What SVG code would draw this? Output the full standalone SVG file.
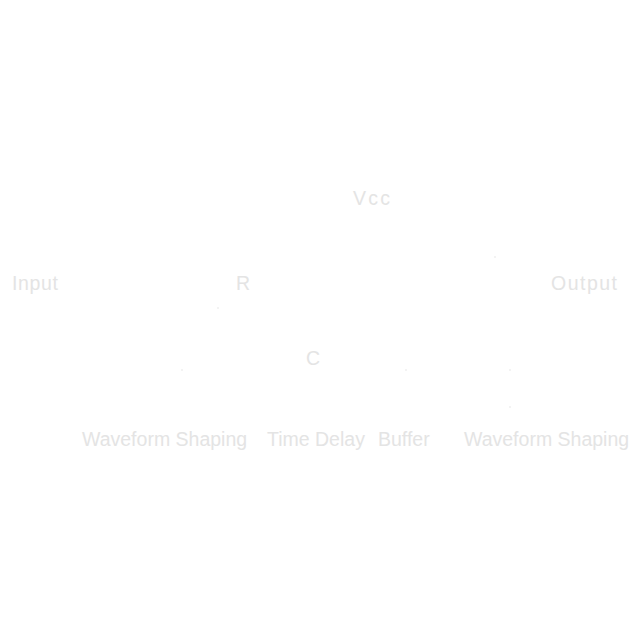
<svg xmlns="http://www.w3.org/2000/svg" width="640" height="640" viewBox="0 0 640 640">
<style>
.lbl{font-family:"Liberation Sans",Arial,sans-serif;font-size:19.5px;fill:#e4e4e4}
.wire{stroke:#ffffff;stroke-width:2;fill:none}
.tick{fill:#d0d0d0}
</style>
<rect width="640" height="640" fill="#ffffff"/>
<g id="connectors">
<path class="wire" d="M65 285 H230 M250 285 H540 M370 210 V285 M311 285 V345"/>
<rect class="tick" x="217.5" y="307.5" width="1" height="1"/>
<rect class="tick" x="181.5" y="369.5" width="1" height="1"/>
<rect class="tick" x="405.5" y="369.5" width="1" height="1"/>
<rect class="tick" x="509.5" y="369.5" width="1" height="1"/>
<rect class="tick" x="509.5" y="406.5" width="1" height="1"/>
<rect class="tick" x="494.5" y="256.5" width="1" height="1"/>
</g>
<g id="vcc"><text class="lbl" x="353" y="205" textLength="37" lengthAdjust="spacing">Vcc</text></g>
<g id="input"><text class="lbl" x="12" y="290" textLength="46" lengthAdjust="spacing">Input</text></g>
<g id="r"><text class="lbl" x="236" y="290">R</text></g>
<g id="output"><text class="lbl" x="551" y="290" textLength="66" lengthAdjust="spacing">Output</text></g>
<g id="c"><text class="lbl" x="306" y="365">C</text></g>
<g id="ws1"><text class="lbl" x="82" y="446">Waveform Shaping</text></g>
<g id="td"><text class="lbl" x="267" y="446">Time Delay</text></g>
<g id="buf"><text class="lbl" x="378" y="446">Buffer</text></g>
<g id="ws2"><text class="lbl" x="464" y="446">Waveform Shaping</text></g>
</svg>
